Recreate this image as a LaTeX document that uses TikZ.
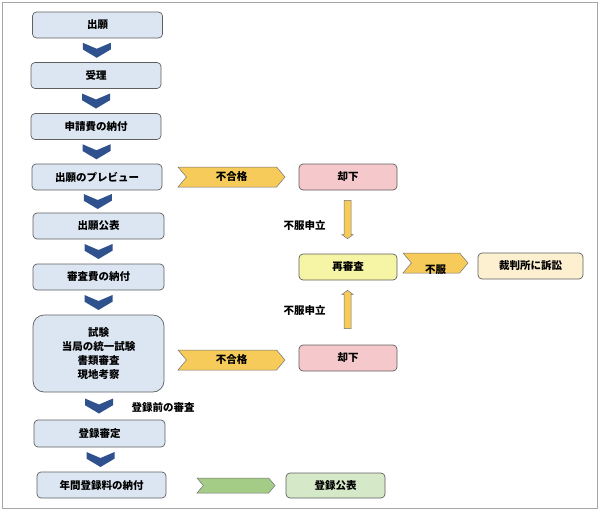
\documentclass[tikz,border=0pt]{standalone}
\usepackage{fontspec}
\setmainfont{Noto Sans CJK JP}
\usetikzlibrary{calc,shapes.symbols}

\definecolor{boxblue}{RGB}{220,230,242}
\definecolor{chevblue}{RGB}{47,82,143}
\definecolor{tagyellow}{RGB}{247,203,90}
\definecolor{rejpink}{RGB}{245,200,204}
\definecolor{rexyellow}{RGB}{246,244,165}
\definecolor{courtcream}{RGB}{253,240,208}
\definecolor{taggreen}{RGB}{165,204,135}
\definecolor{pubgreen}{RGB}{213,232,200}
\definecolor{edgegray}{RGB}{95,95,95}

\tikzset{
  flowbox/.style={draw=edgegray, line width=.7pt, rounded corners=4pt, fill=boxblue,
    minimum width=130, minimum height=26, inner sep=2pt, align=center,
    font=\fontsize{10.5}{14}\selectfont\bfseries},
  sidebox/.style={flowbox, minimum width=98},
  tagarrow/.style={signal, signal from=west, signal to=east, signal pointer angle=100,
    draw=black!55, line width=.5pt, fill=tagyellow, minimum width=107, minimum height=20,
    inner sep=0pt, font=\fontsize{10.5}{14}\selectfont\bfseries},
  lift/.style={draw=black!55, line width=.5pt, fill=tagyellow},
  note/.style={font=\fontsize{10.5}{14}\selectfont\bfseries},
  pics/chev/.style={code={
    \fill[chevblue] (-14,-7.5) -- (0,-1.5) -- (14,-7.5) -- (14,-.8) -- (0,7.5) -- (-14,-.8) -- cycle;}}
}

\begin{document}
\begin{tikzpicture}[x=1pt,y=-1pt]
\useasboundingbox (0,0) rectangle (600,512);
\draw[black!35, line width=.8pt] (2.5,2.5) rectangle (597.5,508.5);

% main flow
\node[flowbox] (app) at (97.5,25) {出願};
\node[flowbox] (recv) at (96,75.5) {受理};
\node[flowbox] (fee1) at (96,126.5) {申請費の納付};
\node[flowbox] (prev) at (97,177) {出願のプレビュー};
\node[flowbox, minimum width=131] (pub) at (98.5,226) {出願公表};
\node[flowbox, minimum width=131] (fee2) at (98.5,277) {審査費の納付};
\node[flowbox, minimum width=131, minimum height=77, rounded corners=11pt] (exam) at (98.5,353.5)
  {試験\\当局の統一試験\\書類審査\\現地考察};
\node[flowbox, minimum width=131, minimum height=27] (reg) at (99.5,433.5) {登録審定};
\node[flowbox, minimum width=129] (annual) at (101.5,485) {年間登録料の納付};

\coordinate (chevx) at (96,0);
\foreach \a/\b in {app/recv,recv/fee1,fee1/prev,prev/pub,pub/fee2,fee2/exam,exam/reg,reg/annual}
  \pic at ($(\a.south)!.5!(\b.north)$ -| chevx) {chev};

\node[note] (prereg) at (163,407) {登録前の審査};

% rejection and appeal
\node[tagarrow] (ng1) at (231.5,177) {不合格};
\node[tagarrow] (ng2) at (231.5,360) {不合格};
\node[sidebox, fill=rejpink] (rej1) at (348,177) {却下};
\node[sidebox, fill=rexyellow] (rex) at (348,267) {再審査};
\node[sidebox, fill=rejpink] (rej2) at (348,358) {却下};
\node[tagarrow, minimum width=65] (ob) at (435.5,263) {\raisebox{-10pt}[0pt][0pt]{不服}};
\node[sidebox, fill=courtcream, minimum width=105] (court) at (530.5,266) {裁判所に訴訟};

\coordinate (d1) at ($(rej1.south)+(-.5,10)$);
\coordinate (d2) at ($(rex.north)+(-.5,-15)$);
\draw[lift] ($(d1)+(-3.5,0)$) -- ($(d2)+(-3.5,-4)$) -- ($(d2)+(-5.5,-4)$) -- (d2)
  -- ($(d2)+(5.5,-4)$) -- ($(d2)+(3.5,-4)$) -- ($(d1)+(3.5,0)$) -- cycle;
\coordinate (u1) at ($(rej2.north)+(-.5,-16)$);
\coordinate (u2) at ($(rex.south)+(-.5,10)$);
\draw[lift] ($(u1)+(-3.5,0)$) -- ($(u2)+(-3.5,4)$) -- ($(u2)+(-5.5,4)$) -- (u2)
  -- ($(u2)+(5.5,4)$) -- ($(u2)+(3.5,4)$) -- ($(u1)+(3.5,0)$) -- cycle;
\node[note] (ap1) at (304.5,226) {不服申立};
\node[note] (ap2) at (304.5,311) {不服申立};

% publication
\node[tagarrow, fill=taggreen, minimum width=78, minimum height=15] (go) at (236,485.5) {};
\node[sidebox, fill=pubgreen, minimum width=99, minimum height=25] (regpub) at (335.5,485.5) {登録公表};
\end{tikzpicture}
\end{document}
